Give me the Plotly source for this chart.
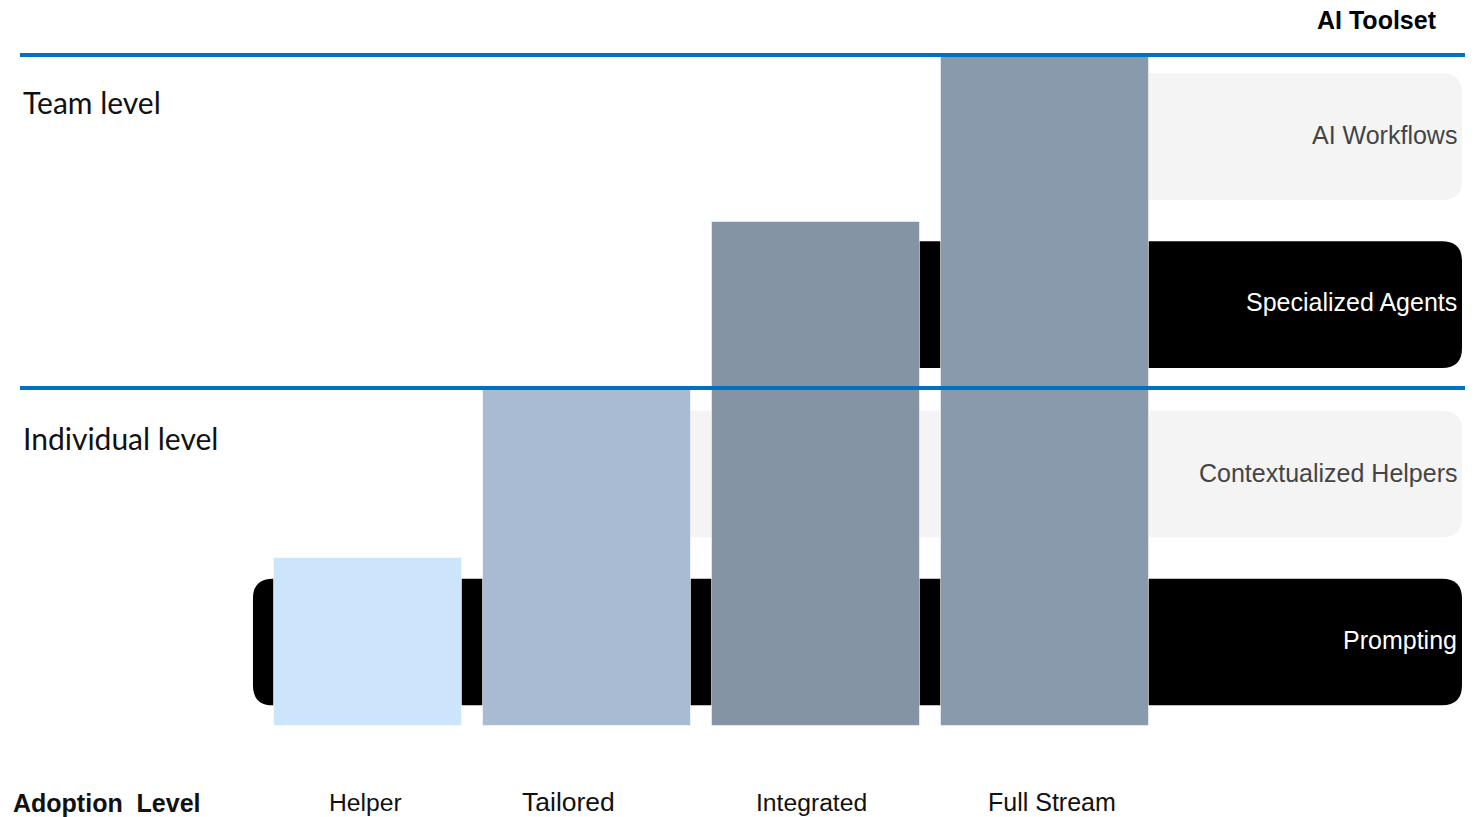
import numpy as np
import plotly.graph_objects as go

# ---------------- data ----------------
levels = ["Helper", "Tailored", "Integrated", "Full Stream"]          # adoption levels
reach = [1.0, 2.0, 3.0, 3.98]                                         # toolset tiers covered by each level
toolset = ["Prompting", "Contextualized Helpers", "Specialized Agents", "AI Workflows"]
toolset_start = [0, 1, 2, 3]                                          # first adoption level using each tool
scopes = ["Individual level", "Team level"]
scope_bounds = [2, 4]                                                 # upper tier boundary of each scope

# ---------------- styles ----------------
W, H = 1481, 817
bar_colors = ["#cce4fc", "#a8bbd2", "#8494a5", "#8a9aad"]
bar_width = [0.821, 0.908, 0.908, 0.908]
bar_offset = [-0.367, -0.454, -0.454, -0.454]
band_fill = ["#000000", "#f4f4f4", "#000000", "#f4f4f4"]
band_text = ["#ffffff", "#444444", "#ffffff", "#444444"]
band_label_yshift = [2, 1, 3, 2]
label_xshift = [7, -19, -5, 7]
label_size = [24.7, 26.5, 24.7, 25]
line_pix_offset = [2, -1]

X_RANGE = [-358 / 229, (W - 358) / 229]
Y_RANGE = [-(H - 726) / 168, 726 / 168]

def px_x(p):
    return X_RANGE[0] + (X_RANGE[1] - X_RANGE[0]) * p / W

xs = np.arange(len(levels))

fig = go.Figure()
fig.add_trace(go.Bar(
    x=xs, y=reach, base=0, width=bar_width, offset=bar_offset,
    marker=dict(color=bar_colors, line=dict(color="rgba(255,255,255,0.55)", width=1)),
    hoverinfo="skip", showlegend=False,
))

# toolset bands (rounded rectangles)
rx, ry = 20 / 229, 20 / 168
half = 0.377
x_right = px_x(1462)
for i, name in enumerate(toolset):
    start = toolset_start[i]
    if i == 0:
        x0 = start + bar_offset[start] - 21 / 229
    else:
        x0 = start
    x1 = x_right
    yc = i + 0.5 + (0.008 if i >= 2 else 0)
    y0, y1 = yc - half, yc + half
    path = (f"M {x0+rx},{y0} L {x1-rx},{y0} Q {x1},{y0} {x1},{y0+ry} "
            f"L {x1},{y1-ry} Q {x1},{y1} {x1-rx},{y1} L {x0+rx},{y1} "
            f"Q {x0},{y1} {x0},{y1-ry} L {x0},{y0+ry} Q {x0},{y0} {x0+rx},{y0} Z")
    fig.add_shape(type="path", path=path, xref="x", yref="y", layer="below",
                  fillcolor=band_fill[i], line=dict(width=0))
    fig.add_annotation(x=1456 / W, xref="paper", y=yc, yref="y", text=name,
                       xshift=3, yshift=band_label_yshift[i],
                       showarrow=False, xanchor="right", yanchor="middle",
                       font=dict(family="Liberation Sans, Arial", size=25, color=band_text[i]))

# scope separator lines and labels
for i, sc in enumerate(scopes):
    yb = scope_bounds[i]
    fig.add_shape(type="line", xref="paper", yref="y", ysizemode="pixel", yanchor=yb,
                  x0=20 / W, x1=1465 / W, y0=line_pix_offset[i], y1=line_pix_offset[i],
                  layer="above", line=dict(color="#0070c0", width=4))
    fig.add_annotation(x=23 / W, xref="paper", y=yb - 0.29, yref="y", text=sc,
                       xshift=-2, yshift=1, showarrow=False, xanchor="left", yanchor="middle",
                       font=dict(family="Lato, Open Sans", size=30, color="#111111"))

# adoption level labels
for i, lv in enumerate(levels):
    fig.add_annotation(x=xs[i], xref="x", y=1 - 802 / H, yref="paper", text=lv,
                       xshift=label_xshift[i], showarrow=False, yanchor="middle",
                       font=dict(family="Liberation Sans, Arial", size=label_size[i], color="#111111"))

fig.add_annotation(x=13 / W, xref="paper", y=1 - 803 / H, yref="paper",
                   text="<b>Adoption\u00a0 Level</b>", showarrow=False, xshift=-2,
                   xanchor="left", yanchor="middle",
                   font=dict(family="Liberation Sans, Arial", size=25, color="#111111"))
fig.add_annotation(x=1437 / W, xref="paper", y=1 - 20 / H, yref="paper",
                   text="<b>AI Toolset</b>", showarrow=False, xshift=2,
                   xanchor="right", yanchor="middle",
                   font=dict(family="Liberation Sans, Arial", size=25, color="#000000"))

fig.update_layout(
    width=W, height=H, margin=dict(l=0, r=0, t=0, b=0),
    paper_bgcolor="white", plot_bgcolor="white",
    xaxis=dict(range=X_RANGE, visible=False, fixedrange=True),
    yaxis=dict(range=Y_RANGE, visible=False, fixedrange=True),
    bargap=0, showlegend=False,
)
fig.write_html("out.html")
